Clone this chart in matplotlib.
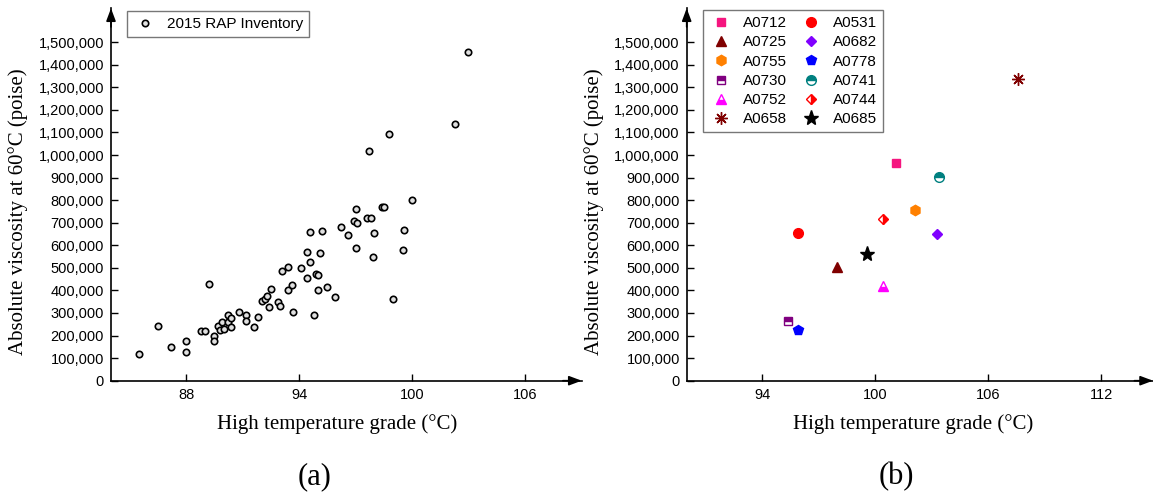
import matplotlib
matplotlib.use('Agg')
import matplotlib.pyplot as plt
from matplotlib.ticker import FuncFormatter

# (a) 2015 RAP inventory
rap_grade = [85.5, 86.5, 87.2, 88.0, 88.0, 88.8, 89.0, 89.2, 89.5, 89.5,
             89.7, 89.8, 89.9, 90.0, 90.2, 90.2, 90.4, 90.4, 90.8, 91.2,
             91.2, 91.6, 91.8, 92.0, 92.2, 92.3, 92.4, 92.5, 92.9, 93.0,
             93.1, 93.4, 93.4, 93.6, 93.7, 94.1, 94.4, 94.4, 94.6, 94.6,
             94.8, 94.9, 95.0, 95.0, 95.1, 95.2, 95.5, 95.9, 96.2, 96.6,
             96.9, 97.0, 97.0, 97.1, 97.6, 97.8, 97.9, 98.0, 98.4, 98.5,
             99.0, 99.5, 99.6, 100.0, 97.7, 98.8, 102.3, 103.0]
rap_visc = [120000, 242000, 148000, 175000, 129000, 220000, 222000, 427000, 200000, 176000,
            242000, 226000, 262000, 229000, 293000, 259000, 276000, 237000, 303000, 289000,
            264000, 238000, 282000, 355000, 363000, 375000, 327000, 406000, 347000, 332000,
            485000, 504000, 403000, 423000, 304000, 498000, 570000, 457000, 659000, 526000,
            290000, 473000, 467000, 403000, 564000, 663000, 413000, 371000, 681000, 647000,
            707000, 759000, 590000, 699000, 721000, 721000, 546000, 653000, 770000, 770000,
            363000, 580000, 668000, 800000, 1018000, 1094000, 1136000, 1456000]

# (b) individual binders
binder_ids = ['A0712', 'A0725', 'A0755', 'A0730', 'A0752', 'A0658',
              'A0531', 'A0682', 'A0778', 'A0741', 'A0744', 'A0685']
binder_grade = [101.1, 98.0, 102.1, 95.4, 100.4, 107.6,
                95.9, 103.3, 95.9, 103.4, 100.4, 99.6]
binder_visc = [966000, 505000, 755000, 263000, 418000, 1336000,
               653000, 652000, 223000, 901000, 715000, 563000]

x_ticks_a = [88, 94, 100, 106]
x_ticks_b = [94, 100, 106, 112]
y_ticks = list(range(0, 1500001, 100000))

# marker, colour, fillstyle, size
styles = {
    'A0712': ('s', '#f5157f', 'full', 6),
    'A0725': ('^', '#800000', 'full', 7),
    'A0755': ('h', '#ff8000', 'full', 7.5),
    'A0730': ('s', '#800080', 'top', 6),
    'A0752': ('^', '#ff00ff', 'bottom', 7),
    'A0658': ((8, 2, 0), '#800000', 'full', 9),
    'A0531': ('o', '#ff0000', 'full', 7),
    'A0682': ('D', '#8000ff', 'full', 5.5),
    'A0778': ('p', '#0000ff', 'full', 7.5),
    'A0741': ('o', '#008080', 'top', 7),
    'A0744': ('D', '#ff0000', 'right', 5.5),
    'A0685': ('*', '#000000', 'full', 11),
}

plt.rcParams['font.family'] = ['Liberation Sans', 'DejaVu Sans']
serif = ['Liberation Serif', 'DejaVu Serif']

W, H = 1153, 493
fig = plt.figure(figsize=(W / 100, H / 100), dpi=100)
ax1 = fig.add_axes([111 / W, 112.3 / H, 470.7 / W, 372.4 / H])
ax2 = fig.add_axes([686.7 / W, 112.3 / H, 466.3 / W, 372.4 / H])


def style_axes(ax, xlim, xticks, xcenter):
    ax.set_xlim(*xlim)
    ax.set_ylim(0, 1650000)
    ax.set_xticks(xticks)
    ax.set_yticks(y_ticks)
    ax.yaxis.set_major_formatter(FuncFormatter(lambda v, p: '{:,.0f}'.format(v)))
    ax.tick_params(direction='in', length=5, width=1, labelsize=10.5, pad=5)
    for s in ['top', 'right']:
        ax.spines[s].set_visible(False)
    for s in ['left', 'bottom']:
        ax.spines[s].set_linewidth(1.2)
    ax.set_xlabel('High temperature grade (°C)', family=serif, fontsize=15)
    ax.set_ylabel('Absolute viscosity at 60°C (poise)', family=serif, fontsize=15)
    ax.xaxis.set_label_coords((xcenter - xlim[0]) / (xlim[1] - xlim[0]), -0.09)
    ax.yaxis.set_label_coords(-0.177, 750000 / 1650000)
    kw = dict(arrowstyle='-|>,head_length=0.4,head_width=0.15', color='k',
              lw=1.2, mutation_scale=19, shrinkA=0, shrinkB=0)
    ax.annotate('', xy=(1, 0), xytext=(0.96, 0), xycoords='axes fraction',
                arrowprops=kw, annotation_clip=False)
    ax.annotate('', xy=(0, 1), xytext=(0, 0.95), xycoords='axes fraction',
                arrowprops=kw, annotation_clip=False)


style_axes(ax1, (84, 109.02), x_ticks_a, 96)
style_axes(ax2, (90, 114.76), x_ticks_b, 102)

ax1.plot(rap_grade, rap_visc, linestyle='none', marker='o', markersize=4.6,
         markerfacecolor='#e0e0e0', markeredgecolor='k', markeredgewidth=1.2,
         label='2015 RAP Inventory', clip_on=False)

leg_kw = dict(loc='upper left', frameon=True, fancybox=False, edgecolor='#555555',
              fontsize=11, borderpad=0.4, handlelength=1.57, handletextpad=0.65,
              borderaxespad=0, numpoints=1)
leg1 = ax1.legend(bbox_to_anchor=(0.034, 0.993), **leg_kw)
leg1.get_frame().set_linewidth(1.0)

for name, gx, vy in zip(binder_ids, binder_grade, binder_visc):
    mk, col, fs, ms = styles[name]
    ax2.plot([gx], [vy], linestyle='none', marker=mk, markersize=ms,
             color=col, markeredgecolor=col, markerfacecolor=col,
             markerfacecoloralt='white', fillstyle=fs, markeredgewidth=1.0,
             label=name)

leg2 = ax2.legend(bbox_to_anchor=(0.034, 0.995), ncol=2, columnspacing=0.8,
                  labelspacing=0.34, **leg_kw)
leg2.get_frame().set_linewidth(1.0)

fig.text(315 / W, 0.017, '(a)', ha='center', va='baseline', family=serif, fontsize=22)
fig.text(896 / W, 0.017, '(b)', ha='center', va='baseline', family=serif, fontsize=22)

fig.savefig('out.png', dpi=100)
